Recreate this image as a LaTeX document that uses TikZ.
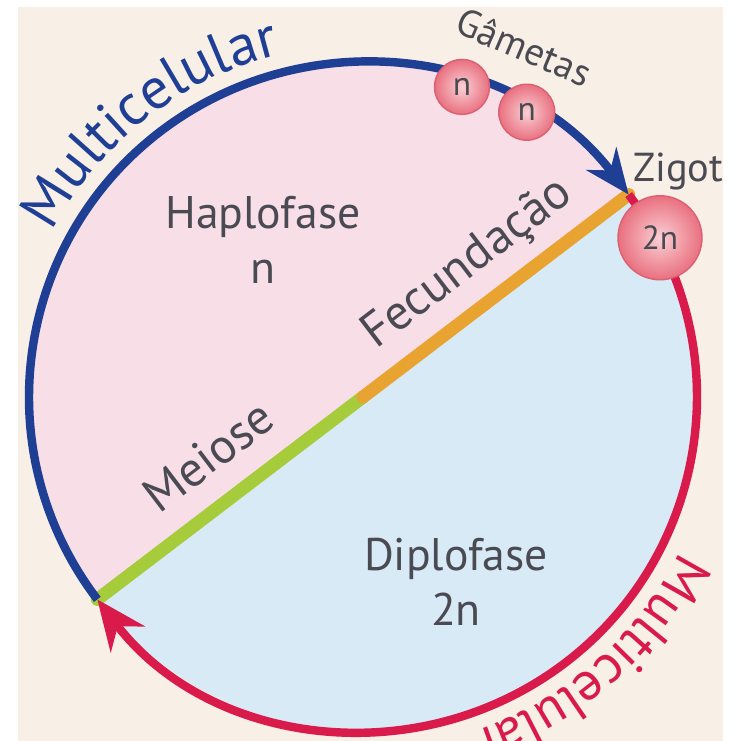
\documentclass[tikz,border=0pt]{standalone}
\usepackage{fontspec}
\setmainfont{PT Sans}
\usepackage{tikz}
\usetikzlibrary{arrows.meta, decorations.text}
\usepackage{tkz-euclide}
\usepackage{xcolor}
\definecolor{cream}{HTML}{F8EFE7}
\definecolor{haplo}{HTML}{F7DEE7}
\definecolor{diplo}{HTML}{D7EAF5}
\definecolor{cycblue}{HTML}{1F3F95}
\definecolor{cycred}{HTML}{D91B4C}
\definecolor{fecorange}{HTML}{E9A331}
\definecolor{meigreen}{HTML}{A6CB3B}
\definecolor{txtgray}{HTML}{4A4A52}
\definecolor{gamin}{HTML}{FAD0D5}
\definecolor{gamout}{HTML}{E9707F}
\definecolor{gamrim}{HTML}{DC6073}
\newcommand\arcfont{\fontsize{33}{33}\selectfont}
\newcommand\lowarcfont{\fontsize{31}{31}\selectfont}

\begin{document}
\begin{tikzpicture}[
    gamete/.style={circle, draw=gamrim, line width=0.8pt, inner color=gamin,
      outer color=gamout, text=txtgray, inner sep=0pt,
      font=\fontsize{19}{19}\selectfont},
    phase/.style={align=center, text=txtgray, font=\fontsize{26}{31}\selectfont},
    onbar/.style={sloped, inner sep=0pt, text=txtgray, font=\fontsize{28}{28}\selectfont},
    flow/.style={line width=4.8pt},
    bar/.style={line width=7.4pt},
  ]
  \useasboundingbox (-7.26,-6.88) rectangle (7.40,7.94);
  \begin{scope}
    \clip (-6.9,-6.88) rectangle (7.2,7.8);
    \fill[cream] (-6.9,-6.88) rectangle (7.2,7.8);
    \tkzDefPoints{0/0/O}
    \tkzDefPoint(37.3:6.68){Z}
    \tkzDefPoint(217.3:6.68){M}
    % the two phases
    \fill[haplo] (Z) arc[start angle=37.3, end angle=217.3, radius=6.68] -- cycle;
    \fill[diplo] (M) arc[start angle=217.3, end angle=397.3, radius=6.68] -- cycle;
    \tkzDrawSegment[meigreen, bar](M,O)
    \tkzDrawSegment[fecorange, bar](O,Z)
    % the cycle
    \draw[cycblue, flow, {Stealth[length=9mm, width=7.5mm]}-] (Z) arc[start angle=37.3, end angle=217.3, radius=6.68];
    \draw[cycred, flow, {Stealth[length=10mm, width=8.5mm]}-] (M) arc[start angle=217.3, end angle=397.3, radius=6.68];
    \node[gamete, minimum size=1.1cm] (g1) at (72.3:6.51) {n};
    \node[gamete, minimum size=1.12cm] (g2) at (60.1:6.57) {n};
    \node[gamete, minimum size=1.68cm] (zyg) at (28.2:6.74) {2n};
    % labels
    \node[phase] (hap) at (-2.0,3.14) {Haplofase\\n};
    \node[phase] (dip) at (1.86,-3.7) {Diplofase\\2n};
    \path (O) -- (Z) node[onbar, pos=0.49, above=0.38cm] (fec) {Fecundação};
    \path (M) -- (O) node[onbar, pos=0.524, above=0.58cm] (mei) {Meiose};
    \node[text=txtgray, font=\fontsize{23}{23}\selectfont, anchor=base west, inner sep=0pt] (zigtxt) at (5.4,4.3) {Zigoto};
    \node[text=txtgray, font=\fontsize{22}{22}\selectfont, rotate=-23] (gamtxt) at (3.22,7.0) {Gâmetas};
    \path[decorate, decoration={text along path, text color=cycblue, text={|\arcfont|Multicelular}}]
      (152:7.05) arc[start angle=152, end angle=95, radius=7.05];
    \path[decorate, decoration={text along path, text color=cycred, text={|\lowarcfont|Multicelular}}]
      (-26:7.05) arc[start angle=-26, end angle=-100, radius=7.05];
  \end{scope}
\end{tikzpicture}
\end{document}
